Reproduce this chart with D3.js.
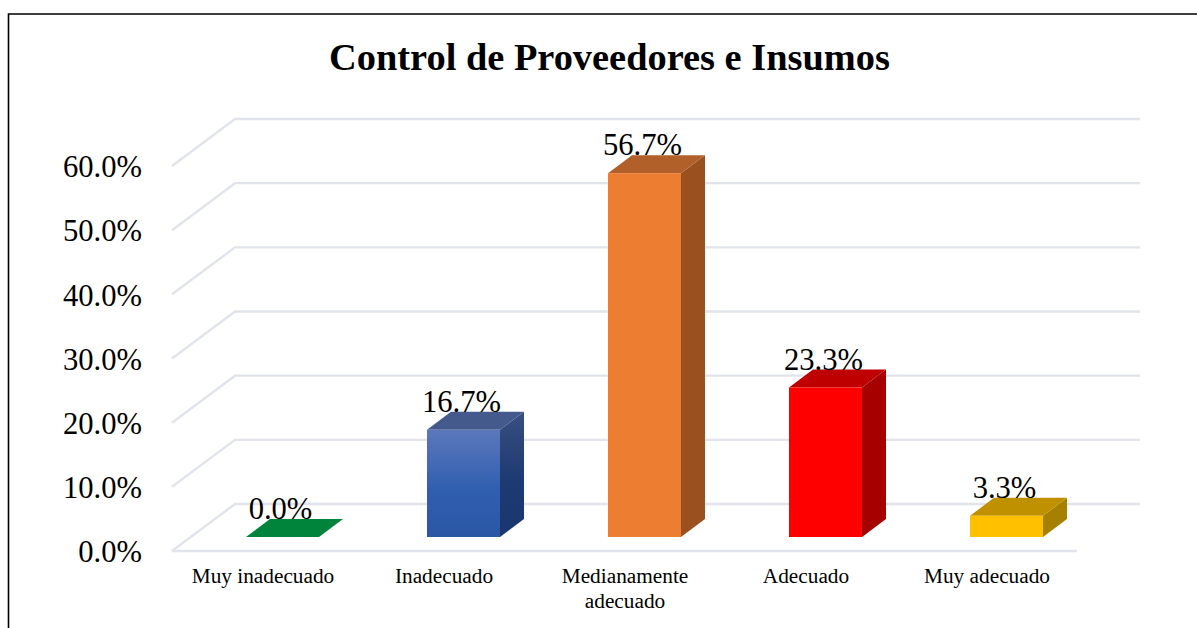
<!DOCTYPE html>
<html>
<head>
<meta charset="utf-8">
<script src="https://cdn.jsdelivr.net/npm/d3@7"></script>
<style>
  html, body { margin: 0; padding: 0; background: #fff; overflow: hidden; }
  text { font-family: "Liberation Serif", serif; fill: #000; }
</style>
</head>
<body>
<div id="chart"></div>
<script>
var categories = [["Muy inadecuado"], ["Inadecuado"], ["Medianamente", "adecuado"], ["Adecuado"], ["Muy adecuado"]];
var values = [0.0, 16.7, 56.7, 23.3, 3.3];
var valueLabels = ["0.0%", "16.7%", "56.7%", "23.3%", "3.3%"];
var tickValues = [0, 10, 20, 30, 40, 50, 60];
var frontColors = ["#00843c", "url(#blueFront)", "#ed7d31", "#ff0000", "#ffc000"];
var topColors = ["#00843c", "#44598c", "#b1602a", "#bf0000", "#bf9000"];
var sideColors = ["#00843c", "url(#blueSide)", "#9a511f", "#a60000", "#a68000"];

var width = 1197, height = 628;
var depthX = 63, depthY = 47;   // wall offset
var barW = 73, barDX = 24, barDY = 18;
var floorUp = 14, floorRight = 20;

var svg = d3.select("#chart").append("svg")
  .attr("width", width)
  .attr("height", height);

var defs = svg.append("defs");
function grad(id, stops) {
  var g = defs.append("linearGradient").attr("id", id)
    .attr("x1", 0).attr("y1", 0).attr("x2", 0).attr("y2", 1);
  stops.forEach(function (s) {
    g.append("stop").attr("offset", s[0]).attr("stop-color", s[1]);
  });
}
grad("blueFront", [[0, "#5b78bb"], [0.55, "#315fb0"], [1, "#2a56a5"]]);
grad("blueSide", [[0, "#384f80"], [0.55, "#1e3a72"], [1, "#1a3670"]]);

// outer frame, runs off the right and bottom of the picture
svg.append("path")
  .attr("d", "M8.5,628V14H1197")
  .attr("fill", "none")
  .attr("stroke", "#000")
  .attr("stroke-width", 1.6);

svg.append("text")
  .attr("x", 609.5)
  .attr("y", 70)
  .attr("text-anchor", "middle")
  .attr("font-size", 38.4)
  .attr("font-weight", "bold")
  .text("Control de Proveedores e Insumos");

var x = d3.scaleBand().domain(d3.range(categories.length)).range([172, 1077]);
var y = d3.scaleLinear().domain([0, 60]).range([551, 166]);
var h = function (v) { return y(0) - y(v); };

// gridlines: back wall, side wall, floor front edge
var grid = svg.append("g")
  .attr("fill", "none")
  .attr("stroke", "#e1e4ea")
  .attr("stroke-width", 2.4);

tickValues.forEach(function (t) {
  var p = d3.path();
  p.moveTo(x.range()[0], y(t));
  p.lineTo(x.range()[0] + depthX, y(t) - depthY);
  p.lineTo(x.range()[1] + depthX, y(t) - depthY);
  grid.append("path").attr("d", p.toString());
});
grid.append("line")
  .attr("x1", x.range()[0]).attr("y1", y(0))
  .attr("x2", x.range()[1]).attr("y2", y(0));

var axis = d3.axisLeft(y)
  .tickValues(tickValues)
  .tickSize(0)
  .tickPadding(30)
  .tickFormat(function (d) { return d3.format(".1f")(d) + "%"; });

var axisG = svg.append("g")
  .attr("transform", "translate(172,0)")
  .call(axis);
axisG.select(".domain").remove();
axisG.selectAll("text")
  .attr("font-family", null)
  .style("font-size", "30.6px")
  .attr("dy", "0.32em")
  .attr("y", 1);

var bars = svg.selectAll(".bar")
  .data(values)
  .enter().append("g")
  .attr("class", "bar")
  .attr("transform", function (d, i) {
    return "translate(" + (x(i) + (x.bandwidth() - barW) / 2 + floorRight) + "," + (y(0) - floorUp) + ")";
  });

bars.append("path")
  .attr("fill", function (d, i) { return sideColors[i]; })
  .attr("d", function (d) {
    return "M" + barW + ",0l" + barDX + "," + (-barDY) + "v" + (-h(d)) + "l" + (-barDX) + "," + barDY + "z";
  });

bars.append("path")
  .attr("fill", function (d, i) { return topColors[i]; })
  .attr("d", function (d) {
    return "M0," + (-h(d)) + "h" + barW + "l" + barDX + "," + (-barDY) + "h" + (-barW) + "z";
  });

bars.append("rect")
  .attr("x", 0)
  .attr("y", function (d) { return -h(d); })
  .attr("width", barW)
  .attr("height", function (d) { return h(d); })
  .attr("fill", function (d, i) { return frontColors[i]; });

bars.append("text")
  .attr("x", barW / 2 - 2)
  .attr("y", function (d) { return -h(d) - 18; })
  .attr("text-anchor", "middle")
  .attr("font-size", 30.6)
  .text(function (d, i) { return valueLabels[i]; });

// category labels, wrapped on two lines where needed
var catLabels = svg.selectAll(".cat")
  .data(categories)
  .enter().append("text")
  .attr("class", "cat")
  .attr("text-anchor", "middle")
  .attr("font-size", 21.3)
  .attr("y", 583);

catLabels.selectAll("tspan")
  .data(function (d, i) {
    return d.map(function (s) { return { s: s, i: i }; });
  })
  .enter().append("tspan")
  .attr("x", function (d) { return x(d.i) + x.bandwidth() / 2 + 0.5; })
  .attr("dy", function (d, j) { return j ? 25 : 0; })
  .text(function (d) { return d.s; });
</script>
</body>
</html>
